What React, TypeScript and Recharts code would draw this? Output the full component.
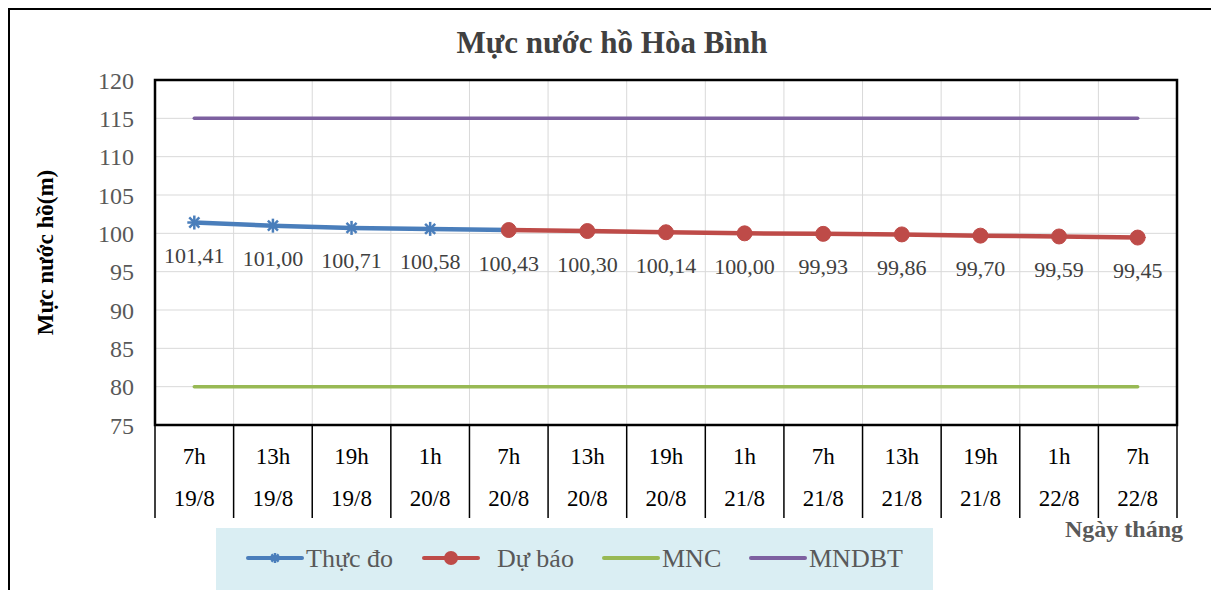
import { ComposedChart, Line, XAxis, YAxis, CartesianGrid, Legend, LabelList, Label, ReferenceArea, Customized } from 'recharts';

const hours = ['7h', '13h', '19h', '1h', '7h', '13h', '19h', '1h', '7h', '13h', '19h', '1h', '7h'];
const days = ['19/8', '19/8', '19/8', '20/8', '20/8', '20/8', '20/8', '21/8', '21/8', '21/8', '21/8', '22/8', '22/8'];
const thucDo = [101.41, 101.0, 100.71, 100.58, 100.43, null, null, null, null, null, null, null, null];
const duBao = [null, null, null, null, 100.43, 100.3, 100.14, 100.0, 99.93, 99.86, 99.7, 99.59, 99.45];
const mnc = [80, 80, 80, 80, 80, 80, 80, 80, 80, 80, 80, 80, 80];
const mndbt = [115, 115, 115, 115, 115, 115, 115, 115, 115, 115, 115, 115, 115];
const yTicks = [75, 80, 85, 90, 95, 100, 105, 110, 115, 120];

const data = hours.map((h, i) => ({
  cat: h + '|' + days[i],
  thucDo: thucDo[i],
  duBao: duBao[i],
  mnc: mnc[i],
  mndbt: mndbt[i],
}));

const FONT = '"Liberation Serif", "Times New Roman", serif';
const BLUE = '#4A7EBB';
const RED = '#BE4B48';
const GREEN = '#98B954';
const PURPLE = '#7D60A0';

function Star({ cx, cy, color, r = 7 }: any) {
  if (cx == null || cy == null) return null;
  const d = r * 0.72;
  return (
    <g stroke={color} strokeWidth={2.5}>
      <line x1={cx} y1={cy - r} x2={cx} y2={cy + r} />
      <line x1={cx - r} y1={cy} x2={cx + r} y2={cy} />
      <line x1={cx - d} y1={cy - d} x2={cx + d} y2={cy + d} />
      <line x1={cx - d} y1={cy + d} x2={cx + d} y2={cy - d} />
    </g>
  );
}

const fmt = (v: any) => (typeof v === 'number' ? v.toFixed(2).replace('.', ',') : '');

function ValueLabel(props: any) {
  const { x, y, value, index, skip } = props;
  if (value == null || (skip && skip(index))) return null;
  return (
    <text x={x} y={y + 33} textAnchor="middle" dominantBaseline="central" fill="#404040" fontSize={22} fontFamily={FONT}>
      {fmt(value)}
    </text>
  );
}

function CatTick(props: any) {
  const { x, y, payload, index } = props;
  const half = payload?.offset ?? 39.3;
  const [h, d] = String(payload.value).split('|');
  return (
    <g>
      <line x1={x - half} y1={y} x2={x - half} y2={y + 93} stroke="#000" strokeWidth={1.5} />
      {index === hours.length - 1 && (
        <line x1={x + half} y1={y} x2={x + half} y2={y + 93} stroke="#000" strokeWidth={1.5} />
      )}
      <text x={x} y={y + 31} textAnchor="middle" dominantBaseline="central" fill="#000" fontSize={23} fontFamily={FONT}>
        {h}
      </text>
      <text x={x} y={y + 73} textAnchor="middle" dominantBaseline="central" fill="#000" fontSize={23} fontFamily={FONT}>
        {d}
      </text>
    </g>
  );
}

const legendItems = [
  { key: 'thucDo', name: 'Thực đo', color: BLUE, marker: 'star' },
  { key: 'duBao', name: 'Dự báo', color: RED, marker: 'circle' },
  { key: 'mnc', name: 'MNC', color: GREEN, marker: '' },
  { key: 'mndbt', name: 'MNDBT', color: PURPLE, marker: '' },
];

function LegendBox() {
  const pos = [32, 208, 388, 535];
  return (
    <svg width={717} height={62} style={{ display: 'block' }}>
      <rect x={0} y={0} width={717} height={62} fill="#DAEEF3" />
      {legendItems.map((it, i) => (
        <g key={it.key}>
          <line x1={pos[i]} y1={30} x2={pos[i] + 54} y2={30} stroke={it.color} strokeWidth={4} strokeLinecap="round" />
          {it.marker === 'star' && <Star cx={pos[i] + 27} cy={30} color={it.color} r={5} />}
          {it.marker === 'circle' && <circle cx={pos[i] + 27} cy={30} r={7} fill={it.color} />}
          <text x={pos[i] + 58 + (it.marker === 'circle' ? 15 : 0)} y={30} dominantBaseline="central" fill="#595959" fontSize={26} fontFamily={FONT}>
            {it.name}
          </text>
        </g>
      ))}
    </svg>
  );
}

// outer frame (only the part inside the visible area is drawn)
function Frame() {
  return (
    <g stroke="#000" strokeWidth={2}>
      <line x1={9} y1={8} x2={9} y2={590} />
      <line x1={8} y1={9} x2={1212} y2={9} />
    </g>
  );
}

export default function App() {
  return (
    <div style={{ position: 'relative', margin: '-8px 0 0 -8px', width: 1219, height: 590, overflow: 'hidden', background: '#fff' }}>
      <div style={{ position: 'absolute', left: 0, top: 25, width: 1224, textAlign: 'center', fontFamily: FONT, fontWeight: 'bold', fontSize: 31, color: '#404040' }}>
        Mực nước hồ Hòa Bình
      </div>
      <div style={{ position: 'absolute', left: 0, top: 0 }}>
        <ComposedChart width={1219} height={590} data={data} margin={{ top: 80, right: 42, left: 0, bottom: 0 }}>
          <CartesianGrid
            stroke="#D9D9D9"
            strokeWidth={1}
            verticalCoordinatesGenerator={({ offset }: any) =>
              hours.map((_, i) => offset.left + (i * offset.width) / hours.length).slice(1)
            }
          />
          <XAxis
            dataKey="cat"
            scale="band"
            axisLine={false}
            tickLine={false}
            tickSize={0}
            tickMargin={0}
            height={103}
            interval={0}
            tick={<CatTick />}
          >
            <Label
              content={({ viewBox }: any) => (
                <text x={viewBox.x + viewBox.width + 6} y={viewBox.y + 104} textAnchor="end" dominantBaseline="central" fill="#595959" fontSize={24} fontWeight="bold" fontFamily={FONT}>
                  Ngày tháng
                </text>
              )}
            />
          </XAxis>
          <YAxis
            domain={[75, 120]}
            ticks={yTicks}
            interval={0}
            width={155}
            axisLine={false}
            tickLine={false}
            tickMargin={15}
            tick={{ fill: '#595959', fontSize: 24, fontFamily: FONT }}
          >
            <Label
              content={({ viewBox }: any) => {
                const cy = viewBox.y + viewBox.height / 2;
                return (
                  <text x={45} y={cy} transform={`rotate(-90, 45, ${cy})`} textAnchor="middle" dominantBaseline="central" fill="#000" fontSize={23} fontWeight="bold" fontFamily={FONT}>
                    Mực nước hồ(m)
                  </text>
                );
              }}
            />
          </YAxis>
          <ReferenceArea y1={75} y2={120} fill="none" stroke="#000" strokeWidth={2.5} ifOverflow="visible" />
          <Legend
            verticalAlign="bottom"
            align="left"
            wrapperStyle={{ left: 216, width: 717 }}
            content={() => <LegendBox />}
          />
          <Line
            dataKey="thucDo"
            name="Thực đo"
            stroke={BLUE}
            strokeWidth={4.5}
            strokeLinecap="round"
            dot={(p: any) => <Star key={'s' + p.index} cx={p.cx} cy={p.cy} color={BLUE} />}
            isAnimationActive={false}
          >
            <LabelList dataKey="thucDo" content={(p: any) => <ValueLabel {...p} />} />
          </Line>
          <Line
            dataKey="duBao"
            name="Dự báo"
            stroke={RED}
            strokeWidth={4.5}
            strokeLinecap="round"
            dot={{ r: 7.5, fill: RED, stroke: RED, strokeWidth: 1 }}
            isAnimationActive={false}
          >
            <LabelList dataKey="duBao" content={(p: any) => <ValueLabel {...p} skip={(i: number) => i === 4} />} />
          </Line>
          <Line dataKey="mnc" name="MNC" stroke={GREEN} strokeWidth={3.5} strokeLinecap="round" dot={false} isAnimationActive={false} />
          <Line dataKey="mndbt" name="MNDBT" stroke={PURPLE} strokeWidth={3.5} strokeLinecap="round" dot={false} isAnimationActive={false} />
          <Customized component={Frame} />
        </ComposedChart>
      </div>
    </div>
  );
}
